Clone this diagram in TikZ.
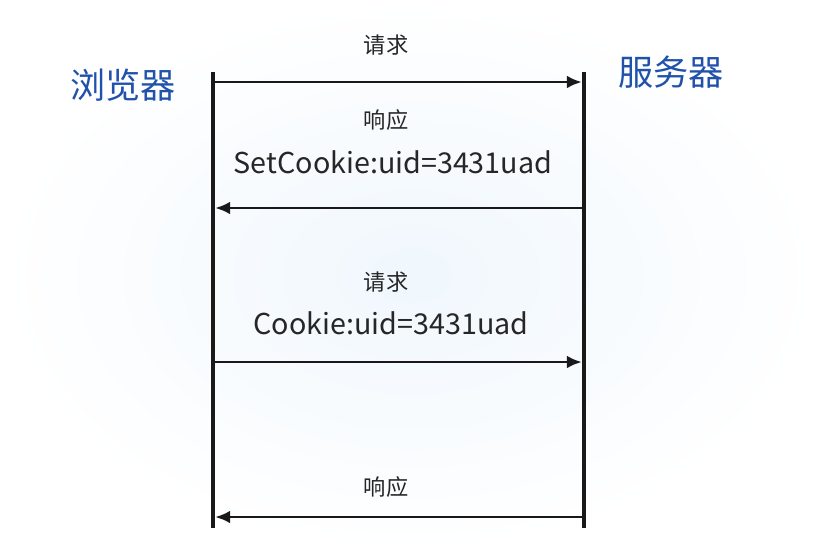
\documentclass[tikz,border=0pt]{standalone}
\usepackage{fontspec}
\setmainfont{Noto Sans CJK SC}
\usetikzlibrary{arrows.meta}
\definecolor{headblue}{RGB}{32,82,172}
\definecolor{bgblue}{RGB}{240,247,253}
\tikzset{
  lifeline/.style={line width=2.8pt, black!90},
  msg/.style={line width=2.5pt, black!90, -{Latex[length=13pt, width=11pt]}},
  lbl/.style={font=\fontsize{19pt}{22pt}\selectfont, text=black!85, inner sep=0pt},
  cklbl/.style={font=\fontsize{24.5pt}{28pt}\selectfont, text=black!85, inner sep=0pt},
  head/.style={font=\fontsize{30pt}{34pt}\selectfont, text=headblue, inner sep=0pt}
}
\begin{document}
\begin{tikzpicture}[x=0.03cm, y=-0.03cm]
      % Background with a soft bluish glow
      \shade[inner color=bgblue, outer color=white] (0,0) rectangle (823,550);
      \useasboundingbox (0,0) rectangle (823,550);

      % Lifelines
      \coordinate (btop) at (213,72);  \coordinate (bbot) at (213,528);
      \coordinate (stop) at (584,72);  \coordinate (sbot) at (584,528);
      \draw[lifeline] (btop) -- (bbot);
      \draw[lifeline] (stop) -- (sbot);

      \node[head] (browser) at (123,85) {浏览器};
      \node[head] (server) at (671,72) {服务器};

      % Message end points
      \coordinate (b1) at (215,82);  \coordinate (s1) at (582,82);
      \coordinate (b2) at (215,208); \coordinate (s2) at (582,208);
      \coordinate (b3) at (215,362); \coordinate (s3) at (582,362);
      \coordinate (b4) at (215,517); \coordinate (s4) at (582,517);

      \draw[msg] (b1) -- (s1);
      \draw[msg] (s2) -- (b2);
      \draw[msg] (b3) -- (s3);
      \draw[msg] (s4) -- (b4);

      % Labels
      \node[lbl] (req1) at (386,45) {请求};
      \node[lbl] (resp1) at (386,120) {响应};
      \node[cklbl] (setck) at (393,162) {SetCookie:uid=3431uad};
      \node[lbl] (req2) at (386,282) {请求};
      \node[cklbl] (ck) at (391,323) {Cookie:uid=3431uad};
      \node[lbl] (resp2) at (386,487) {响应};
    \end{tikzpicture}
\end{document}
